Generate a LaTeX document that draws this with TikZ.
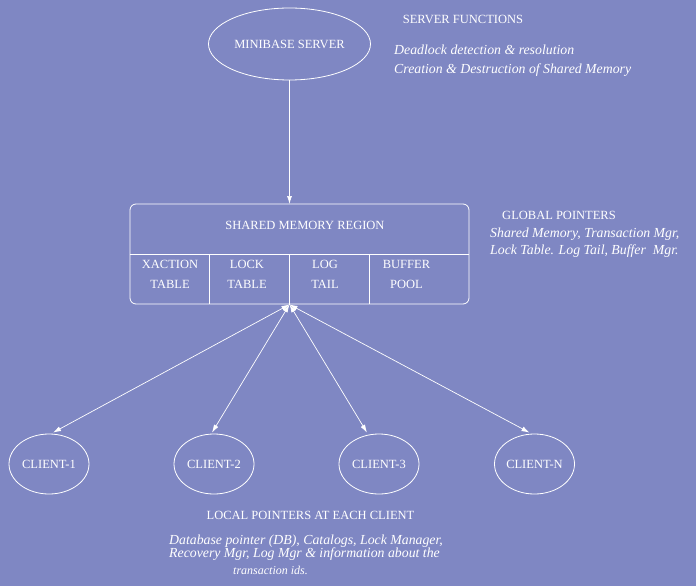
\documentclass[tikz,border=0pt]{standalone}
\usepackage{fontspec}
\setmainfont{Liberation Serif}
\usetikzlibrary{arrows.meta,shapes.geometric}
\definecolor{bgc}{RGB}{127,135,195}
\tikzset{
  every node/.style={text=white},
  capfont/.style={font=\fontsize{12.5}{20}\selectfont},
  itfont/.style={font=\fontsize{13.8}{16}\selectfont\itshape},
  oval/.style={draw=white, ellipse, line width=0.8pt, inner sep=0pt, capfont},
  txt/.style={inner sep=0pt},
  link/.style={draw=white, line width=0.7pt, -{Latex[length=8pt,width=5pt]}},
  dlink/.style={draw=white, line width=0.7pt, {Latex[length=8pt,width=5pt]}-{Latex[length=8pt,width=5pt]}},
  frame/.style={draw=white, line width=0.8pt}
}
\begin{document}
\begin{tikzpicture}[x=1pt,y=-1pt]
\fill[bgc] (0,0) rectangle (696,586);
\useasboundingbox (0,0) rectangle (696,586);

% server
\node[oval, minimum width=162pt, minimum height=72pt] (srv) at (289.5,44) {MINIBASE SERVER};
\node[txt, capfont] (sfh) at (463,19) {SERVER FUNCTIONS};
\node[txt, itfont, anchor=west] (sf1) at (394,50) {Deadlock detection \& resolution};
\node[txt, itfont, anchor=west] (sf2) at (394,70) {Creation \& Destruction of Shared Memory};

% shared memory region
\node[frame, rounded corners=6pt, minimum width=339pt, minimum height=100pt, inner sep=0pt] (smr) at (299.5,254) {};
\node[txt, capfont] (smrl) at (305,225) {SHARED MEMORY REGION};
\draw[frame] (smr.west) -- (smr.east);
\coordinate (top) at (289.5,204);
\coordinate (hub) at (289.5,304.5);
\draw[frame] (209,254) -- (209,304);
\draw[frame] (289.5,254) -- (hub);
\draw[frame] (369,254) -- (369,304);
\node[txt, capfont, align=center] (c1t) at (170,274) {XACTION\\TABLE};
\node[txt, capfont, align=center] (c2t) at (247,274) {LOCK\\TABLE};
\node[txt, capfont, align=center] (c3t) at (325,274) {LOG\\TAIL};
\node[txt, capfont, align=center] (c4t) at (406.5,274) {BUFFER\\POOL};

\node[txt, capfont] (gph) at (559,215) {GLOBAL POINTERS};
\node[txt, itfont, anchor=west] (gp1) at (490,234) {Shared Memory, Transaction Mgr,};
\node[txt, itfont, anchor=west] (gp2) at (490,251) {Lock Table. Log Tail, Buffer\ \ Mgr.};

% clients
\node[oval, minimum width=80pt, minimum height=60pt] (cl1) at (49,464) {CLIENT-1};
\node[oval, minimum width=80pt, minimum height=60pt] (cl2) at (214,464) {CLIENT-2};
\node[oval, minimum width=80pt, minimum height=60pt] (cl3) at (379,464) {CLIENT-3};
\node[oval, minimum width=80pt, minimum height=60pt] (clN) at (534.5,464) {CLIENT-N};

\draw[link] (srv.south) -- (top);
\draw[dlink] (hub) -- ([xshift=4pt,yshift=1pt]cl1.north);
\draw[dlink] (hub) -- ([xshift=-2pt,yshift=1pt]cl2.north);
\draw[dlink] (hub) -- ([xshift=-12pt,yshift=1pt]cl3.north);
\draw[dlink] (hub) -- ([xshift=-5pt,yshift=1pt]clN.north);

\node[txt, capfont] (lph) at (310.5,515) {LOCAL POINTERS AT EACH CLIENT};
\node[txt, itfont, anchor=west] (lp1) at (169,541) {Database pointer (DB), Catalogs, Lock Manager,};
\node[txt, itfont, anchor=west] (lp2) at (169,554) {Recovery Mgr, Log Mgr \& information about the};
\node[txt, font=\fontsize{12}{14}\selectfont\itshape, anchor=west] (lp3) at (233,570) {transaction ids.};
\end{tikzpicture}
\end{document}
